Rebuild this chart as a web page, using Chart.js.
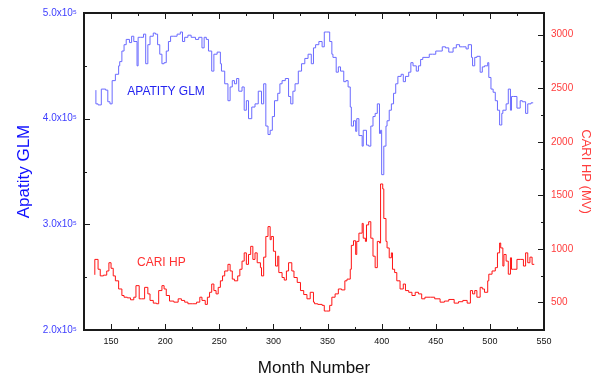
<!DOCTYPE html>
<html>
<head>
<meta charset="utf-8">
<script src="https://cdn.jsdelivr.net/npm/chart.js@4/dist/chart.umd.min.js"></script>
<style>
  html, body { margin: 0; padding: 0; background: #fff; }
</style>
</head>
<body>
<canvas id="chart" width="597" height="382"></canvas>
<script>
/* ── Data ────────────────────────────────────────── */
const glmMonths = [136,138,141,145,147,149,151,154,157,158,160,162,164,167,169,171,174,175,177,180,
  182,184,186,189,191,193,195,197,199,201,203,205,208,211,214,216,218,221,224,228,
  231,234,236,238,240,243,245,248,251,252,255,258,260,262,264,266,268,271,273,275,
  277,280,283,286,289,291,293,295,297,299,301,304,306,308,311,314,316,318,320,323,
  326,329,332,335,337,339,342,345,347,349,352,354,355,358,360,362,365,367,369,371,
  372,374,376,377,379,382,383,386,388,390,392,394,396,398,399,400,402,404,405,407,
  409,411,413,415,418,420,422,425,427,429,432,434,436,438,441,444,447,450,453,456,
  459,462,466,469,472,475,478,480,483,484,486,488,491,493,495,498,499,501,503,505,
  507,509,511,512,515,517,519,520,522,525,528,530,533,535,538,540];
const glmCounts = [427000,414000,413000,428000,427000,416000,414000,436000,442000,450000,454000,464000,470000,475000,472000,478000,473000,450000,477000,477000,
  480000,452000,470000,478000,481000,480000,470000,461000,452000,453000,464000,473000,478000,478000,480000,482000,473000,477000,479000,477000,
  475000,477000,467000,477000,475000,464000,445000,461000,463000,452000,445000,433000,417000,430000,436000,433000,438000,426000,430000,408000,
  417000,400000,411000,414000,426000,414000,433000,393000,385000,389000,402000,417000,424000,433000,436000,438000,421000,414000,426000,433000,
  445000,452000,457000,461000,452000,467000,470000,473000,468000,482000,482000,473000,461000,458000,444000,449000,445000,435000,436000,430000,
  411000,393000,398000,388000,400000,384000,374000,389000,375000,374000,393000,402000,405000,414000,386000,389000,347000,374000,393000,398000,
  408000,414000,424000,433000,440000,442000,435000,440000,444000,453000,450000,445000,450000,456000,458000,458000,461000,461000,464000,464000,
  468000,467000,463000,467000,470000,468000,468000,466000,470000,458000,450000,458000,459000,444000,449000,450000,453000,439000,428000,425000,
  417000,408000,394000,405000,408000,414000,428000,408000,421000,421000,410000,417000,416000,405000,414000,415000];

const cariMonths = [135,138,140,143,146,148,150,152,154,157,160,162,165,168,171,173,176,178,181,184,
  186,189,192,194,197,199,201,204,208,212,215,218,221,225,229,232,234,237,239,241,
  243,245,247,249,251,253,255,258,260,262,264,267,269,271,273,275,277,279,281,283,
  285,288,289,291,293,295,297,298,300,302,304,305,308,310,312,314,317,319,322,325,
  328,331,334,337,338,341,345,347,349,352,354,357,360,363,366,368,371,372,374,376,
  377,379,382,383,385,386,388,390,392,394,396,398,399,401,402,404,405,407,409,410,
  412,414,417,420,422,425,428,431,434,437,440,445,449,454,458,462,467,471,475,479,
  482,484,486,488,491,493,495,498,499,502,505,507,509,510,512,513,515,517,519,520,
  522,525,528,531,533,535,537,539,541];
const cariMV = [758,902,810,748,755,794,871,819,748,702,626,565,549,543,525,549,657,534,534,641,
  580,519,494,488,611,657,626,565,513,503,534,519,503,488,488,503,549,519,482,549,
  595,672,611,580,641,702,748,794,856,794,718,702,748,810,886,963,856,948,1024,902,
  963,871,825,748,923,1116,1208,1086,1116,978,840,932,779,733,709,794,871,794,733,687,
  611,574,534,595,503,488,482,473,420,420,473,549,580,626,617,702,718,810,1033,1076,
  948,1070,1147,1238,1100,1070,1224,1254,1100,932,825,1070,1055,1606,1560,1284,1070,1009,917,963,
  810,779,702,626,672,611,595,565,595,580,534,549,549,534,503,513,528,494,507,519,
  494,611,580,611,549,641,626,595,702,764,794,825,963,1055,1009,840,948,886,764,917,
  810,810,902,902,840,963,871,923,856];

const monthTicks = [150,200,250,300,350,400,450,500,550];
const glmTicks = [200000,300000,400000,500000];
const cariTicks = [500,1000,1500,2000,2500,3000];

/* ── Look ─────────────────────────────────────────── */
const FONT = '"Liberation Sans", Arial, sans-serif';
const BLUE = '#6a6aff';
const RED = '#ff1414';

const toPoints = (xs, ys) => xs.map((x, i) => ({ x: x, y: ys[i] }));

/* frame, inward ticks (major + minor) and in-plot captions */
const frameAndTicks = {
  id: 'frameAndTicks',
  afterDatasetsDraw(chart) {
    const { ctx, chartArea: a, scales } = chart;
    const minors = (list) => list.slice(1).map((v, i) => (v + list[i]) / 2);
    ctx.save();
    ctx.strokeStyle = '#1a1a1a';
    ctx.lineWidth = 1;
    ctx.beginPath();
    const seg = (x1, y1, x2, y2) => { ctx.moveTo(x1, y1); ctx.lineTo(x2, y2); };

    [[monthTicks, 6], [minors(monthTicks), 3]].forEach(([list, len]) => list.forEach(v => {
      const x = Math.round(scales.x.getPixelForValue(v)) + 0.5;
      if (x <= a.left + 1 || x >= a.right - 1) return;
      seg(x, a.bottom, x, a.bottom - len);
      seg(x, a.top, x, a.top + len);
    }));
    [[glmTicks, 6], [minors(glmTicks), 3]].forEach(([list, len]) => list.forEach(v => {
      const y = Math.round(scales.yGlm.getPixelForValue(v)) + 0.5;
      if (y <= a.top + 1 || y >= a.bottom - 1) return;
      seg(a.left, y, a.left + len, y);
    }));
    [[cariTicks, 6], [minors(cariTicks), 3]].forEach(([list, len]) => list.forEach(v => {
      const y = Math.round(scales.yCari.getPixelForValue(v)) + 0.5;
      if (y <= a.top + 1 || y >= a.bottom - 1) return;
      seg(a.right, y, a.right - len, y);
    }));
    ctx.stroke();

    ctx.lineWidth = 2;
    ctx.strokeRect(a.left, a.top, a.right - a.left, a.bottom - a.top);

    ctx.font = '12px ' + FONT;
    ctx.textAlign = 'left';
    ctx.textBaseline = 'middle';
    ctx.fillStyle = '#2424f0';
    ctx.fillText('APATITY GLM', scales.x.getPixelForValue(165), scales.yGlm.getPixelForValue(425500));
    ctx.fillStyle = '#ff3030';
    ctx.fillText('CARI HP', scales.x.getPixelForValue(174), scales.yCari.getPixelForValue(868));
    ctx.restore();
  }
};

new Chart(document.getElementById('chart'), {
  type: 'line',
  data: {
    datasets: [
      {
        label: 'APATITY GLM',
        data: toPoints(glmMonths, glmCounts),
        yAxisID: 'yGlm',
        borderColor: BLUE,
        borderWidth: 1,
        pointRadius: 0,
        stepped: 'after',
      },
      {
        label: 'CARI HP',
        data: toPoints(cariMonths, cariMV),
        yAxisID: 'yCari',
        borderColor: RED,
        borderWidth: 1,
        pointRadius: 0,
        stepped: 'after',
      }
    ]
  },
  options: {
    responsive: false,
    animation: false,
    layout: { padding: { top: 8, left: 0, right: 0, bottom: 0 } },
    plugins: { legend: { display: false }, tooltip: { enabled: false } },
    scales: {
      x: {
        type: 'linear',
        position: 'bottom',
        min: 125, max: 550,
        afterBuildTicks: s => { s.ticks = monthTicks.map(v => ({ value: v })); },
        afterFit: s => { s.height = 52; },
        grid: { display: false, drawTicks: false },
        border: { display: false },
        ticks: { autoSkip: false, maxRotation: 0, padding: 6, color: '#111', font: { family: FONT, size: 9 },
          callback: v => String(v) },
        title: { display: true, text: 'Month Number', color: '#111', font: { family: FONT, size: 17 }, padding: { top: 0, bottom: 3 } }
      },
      yGlm: {
        type: 'linear',
        position: 'left',
        min: 200000, max: 500000,
        afterBuildTicks: s => { s.ticks = glmTicks.map(v => ({ value: v })); },
        afterFit: s => { s.width = 84; },
        grid: { display: false, drawTicks: false },
        border: { display: false },
        ticks: {
          padding: 7, color: '#4040ff', font: { family: FONT, size: 10 },
          callback: v => (v / 100000).toFixed(1) + 'x10\u2075'
        },
        title: { display: true, text: 'Apatity GLM', color: '#1010ff', font: { family: FONT, size: 17 }, padding: { top: 14, bottom: 0 } }
      },
      yCari: {
        type: 'linear',
        position: 'right',
        min: 243, max: 3202,
        afterBuildTicks: s => { s.ticks = cariTicks.map(v => ({ value: v })); },
        afterFit: s => { s.width = 53; },
        grid: { display: false, drawTicks: false },
        border: { display: false },
        ticks: { padding: 7, color: '#ff3c3c', font: { family: FONT, size: 10 },
          callback: v => String(v) },
        title: { display: true, text: 'CARI HP (MV)', color: '#ff3c3c', font: { family: FONT, size: 13 }, padding: { top: 4, bottom: 0 } }
      }
    }
  },
  plugins: [frameAndTicks]
});
</script>
</body>
</html>
